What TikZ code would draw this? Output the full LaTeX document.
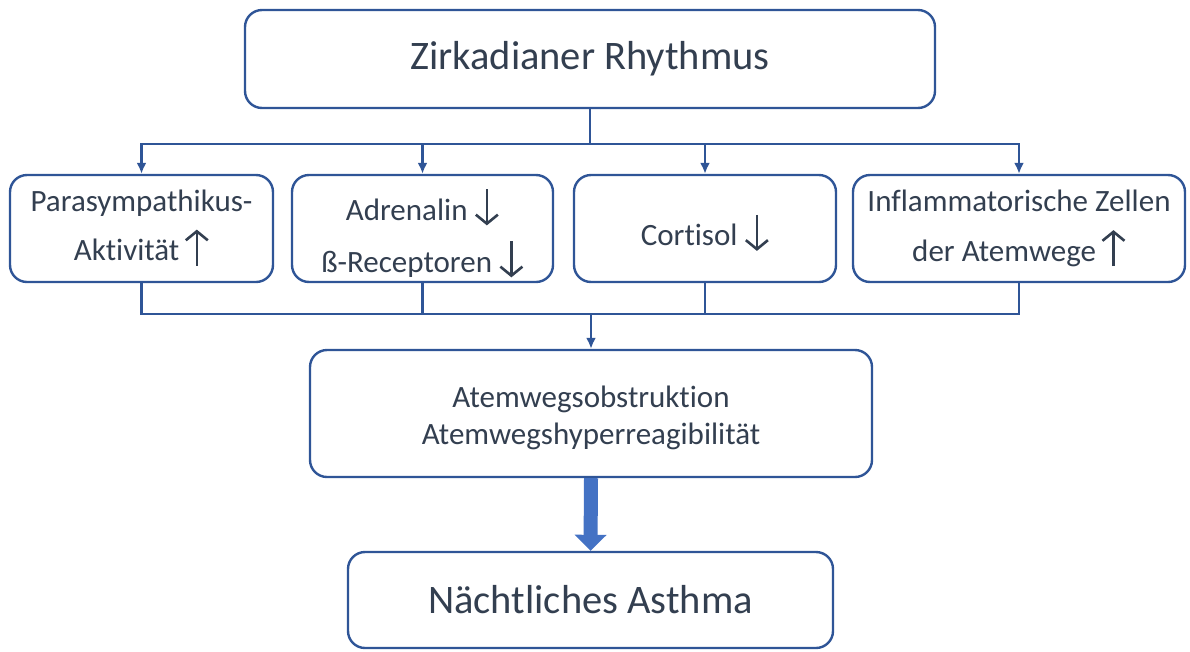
\documentclass[tikz,border=0pt]{standalone}
\usepackage{fontspec}
\setmainfont{Carlito}[Ligatures=NoCommon]
\usetikzlibrary{arrows.meta,calc}

\definecolor{rahmen}{HTML}{2F5597}
\definecolor{schrift}{HTML}{333F50}
\definecolor{pfeilblau}{HTML}{4472C4}

% Pfeile im Text
\newcommand{\pfeilhoch}{\tikz[baseline=0pt]\draw[draw=schrift, line width=2.6pt,
    sharp corners, -{Straight Barb[length=9pt,width=22pt]}] (0pt,-5pt) -- (0pt,31pt);}
\newcommand{\pfeilrunter}{\tikz[baseline=0pt]\draw[draw=schrift, line width=2.6pt,
    sharp corners, -{Straight Barb[length=9pt,width=22pt]}] (0pt,31pt) -- (0pt,-5pt);}

\begin{document}
\begin{tikzpicture}[x=1pt, y=-1pt, >={Latex[length=11pt,width=10pt]},
    kasten/.style={draw=rahmen, line width=2.4pt, rounded corners=17pt,
        fill=white, text=schrift, align=center, inner sep=0pt},
    linie/.style={draw=rahmen, line width=2.4pt, line join=miter},
    dickpfeil/.style={draw=pfeilblau, line width=14pt,
        -{Triangle[length=16pt,width=31pt]}}]
    % Bildgrenzen
    \useasboundingbox (0, 0) rectangle (1190, 651);

    % 1. Oberer Kasten
    \node[kasten, minimum width=690pt, minimum height=98pt,
        font=\fontsize{40.5}{44}\selectfont] (rhythmus) at (590, 59)
        {Zirkadianer Rhythmus};

    % 2. Vier Einflussfaktoren
    \node[kasten, minimum width=263pt, minimum height=107pt,
        font=\fontsize{31}{49}\selectfont] (para) at (141.5, 228.5)
        {Parasympathikus-\\Aktivität\,\pfeilhoch};
    \node[kasten, minimum width=261pt, minimum height=107pt,
        font=\fontsize{31}{52}\selectfont] (adren) at (422.5, 228.5)
        {\rule{0pt}{42pt}Adrenalin \pfeilrunter\\ß-Receptoren \pfeilrunter};
    \node[kasten, minimum width=262pt, minimum height=107pt,
        font=\fontsize{31}{49}\selectfont] (cort) at (705, 228.5)
        {\rule{0pt}{41pt}Cortisol \pfeilrunter};
    \node[kasten, minimum width=332pt, minimum height=107pt,
        font=\fontsize{31}{50}\selectfont] (infl) at (1019, 228.5)
        {Inflammatorische Zellen\\der Atemwege\,\pfeilhoch};

    % 3. Mittlerer Kasten
    \node[kasten, minimum width=562pt, minimum height=127pt,
        font=\fontsize{31}{37}\selectfont] (atemweg) at (591, 413.5)
        {\rule{0pt}{30pt}Atemwegsobstruktion\\Atemwegshyperreagibilität};

    % 4. Unterer Kasten
    \node[kasten, minimum width=485pt, minimum height=96pt,
        font=\fontsize{40.5}{44}\selectfont] (asthma) at (590.5, 600)
        {Nächtliches Asthma};

    % 5. Verzweigung nach unten
    \coordinate (teilung) at ([yshift=-35pt]rhythmus.south);
    \draw[linie] (rhythmus.south) -- (teilung);
    \draw[linie, ->] (teilung) -| (para.north);
    \draw[linie, ->] (teilung) -| (infl.north);
    \draw[linie, ->] (teilung -| adren.north) -- (adren.north);
    \draw[linie, ->] (teilung -| cort.north) -- (cort.north);

    % 6. Zusammenführung
    \coordinate (sammel) at ([yshift=35pt]atemweg.north);
    \draw[linie] (para.south) |- (sammel -| infl.south) -- (infl.south);
    \draw[linie] (adren.south) -- (sammel -| adren.south);
    \draw[linie] (cort.south) -- (sammel -| cort.south);
    \draw[linie, ->] (sammel) -- (atemweg.north);

    % 7. Dicker Pfeil
    \draw[dickpfeil] (atemweg.south) -- (asthma.north);

\end{tikzpicture}
\end{document}
